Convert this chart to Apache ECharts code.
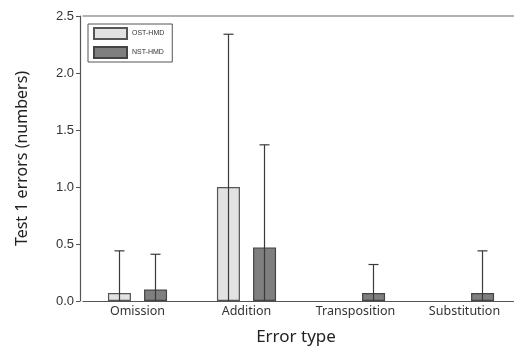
<!DOCTYPE html>
<html><head><meta charset="utf-8">
<script src="https://cdn.jsdelivr.net/npm/echarts@6/dist/echarts.min.js"></script>
<style>html,body{margin:0;padding:0;background:#fff}#c{width:514px;height:346px}</style>
</head><body><div id="c"></div>
<script>
const categories = ['Omission', 'Addition', 'Transposition', 'Substitution'];
const ostMean = [0.07, 1.00, 0, 0];
const ostSD   = [0.37, 1.34, 0, 0];
const nstMean = [0.10, 0.47, 0.07, 0.07];
const nstSD   = [0.31, 0.90, 0.25, 0.37];
const yTicks = [0, 0.5, 1.0, 1.5, 2.0, 2.5];

const chart = echarts.init(document.getElementById('c'));
function errSeries(means, sds, dx) {
  return {
    type: 'custom', z: 5, silent: true,
    data: means.map((m, i) => [i, m, sds[i]]),
    renderItem: function (params, api) {
      const m = api.value(1), sd = api.value(2);
      if (!sd) return null;
      const lo = Math.max(0, m - sd), hi = m + sd;
      const p0 = api.coord([api.value(0), lo]);
      const p1 = api.coord([api.value(0), hi]);
      const x = p0[0] + dx;
      const st = { stroke: '#3a3a3a', lineWidth: 1.2 };
      return { type: 'group', children: [
        { type: 'line', shape: { x1: x, y1: p0[1], x2: x, y2: p1[1] }, style: st },
        { type: 'line', shape: { x1: x - 5, y1: p1[1], x2: x + 5, y2: p1[1] }, style: st }
      ]};
    }
  };
}
const barData = arr => arr.map(v => v === 0 ? '-' : v);
chart.setOption({
  animation: false,
  grid: { left: 83, right: -5, top: 16, bottom: 45, containLabel: false, outerBoundsMode: 'none' },
  legend: {
    left: 88, top: 24, orient: 'vertical', itemWidth: 33, itemHeight: 11, itemGap: 6, icon: 'rect',
    padding: [3, 8, 3, 5], borderColor: '#555', borderWidth: 1, backgroundColor: '#fff',
    textStyle: { fontSize: 7, color: '#333', fontFamily: 'Liberation Sans' },
    data: ['OST-HMD', 'NST-HMD']
  },
  xAxis: [{
    type: 'category', data: categories,
    axisLine: { lineStyle: { color: '#555', width: 1.2 } },
    axisTick: { show: false },
    axisLabel: { color: '#333', fontSize: 12.5, fontFamily: 'Noto Sans', margin: 4 },
    name: 'Error type', nameLocation: 'middle', nameGap: 28,
    nameTextStyle: { fontSize: 17, color: '#222', fontFamily: 'Noto Sans', padding: [0, 0, 0, -10] }
  }, {
    type: 'category', data: categories, position: 'top',
    axisLine: { show: true, lineStyle: { color: '#999', width: 1.5 } },
    axisTick: { show: false }, axisLabel: { show: false }
  }],
  yAxis: {
    type: 'value', min: 0, max: 2.5, interval: 0.5, offset: 3,
    axisLine: { show: true, lineStyle: { color: '#555', width: 1.2 } },
    axisTick: { show: true, length: 4, lineStyle: { color: '#555' } },
    splitLine: { show: false },
    axisLabel: { color: '#333', fontSize: 13, fontFamily: 'Liberation Sans', margin: 6,
      formatter: v => yTicks.includes(v) ? v.toFixed(1) : '' },
    name: 'Test 1 errors (numbers)', nameLocation: 'middle', nameGap: 50,
    nameTextStyle: { fontSize: 16, color: '#222', fontFamily: 'Noto Sans' }
  },
  series: [
    { name: 'OST-HMD', type: 'bar', data: barData(ostMean), barWidth: 23, barGap: '57%',
      itemStyle: { color: '#e2e2e2', borderColor: '#555', borderWidth: 1.2 } },
    { name: 'NST-HMD', type: 'bar', data: barData(nstMean), barWidth: 23,
      itemStyle: { color: '#7f7f7f', borderColor: '#444', borderWidth: 1.2 } },
    errSeries(ostMean, ostSD, -18),
    errSeries(nstMean, nstSD, 18)
  ]
});
</script></body></html>
